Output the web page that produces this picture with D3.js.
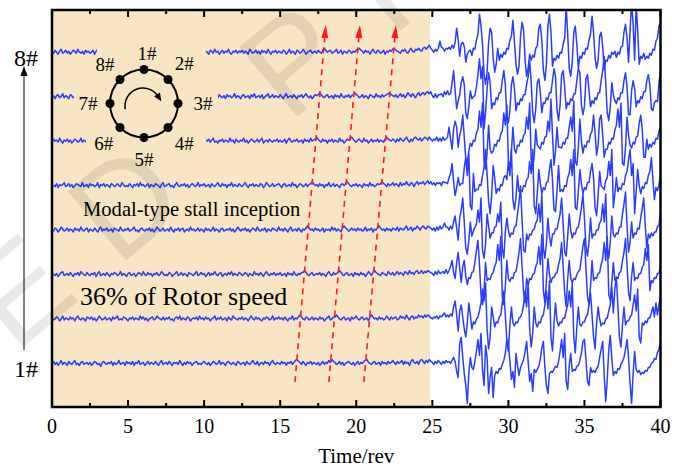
<!DOCTYPE html>
<html><head><meta charset="utf-8">
<script src="https://cdn.jsdelivr.net/npm/d3@7"></script>
<style>body{margin:0;background:#fff}svg{display:block}</style>
</head><body>
<svg id="chart" width="686" height="468"></svg>
<script>
// ---------------- data ----------------
const xMajorTicks = [0, 5, 10, 15, 20, 25, 30, 35, 40];
const xMinorTicks = [2.5, 7.5, 12.5, 17.5, 22.5, 27.5, 32.5, 37.5];
const xLabel = "Time/rev";
const channelEndLabels = ["1#", "8#"];
const ringLabels = ["1#", "2#", "3#", "4#", "5#", "6#", "7#", "8#"];
const noteModal = "Modal-type stall inception";
const noteSpeed = "36% of Rotor speed";
const sampleStep = 0.1;       // rev per sample
const stallStart = 25;        // rev where stall data arrays start
const shadeEnd = 24.85;       // end of shaded (pre-stall) region
const arrowStartT = [15.97, 18.2, 20.5];
const arrowEndT = [18.0, 20.24, 22.61];
const arrowStartCh = 0.58;
const arrowEndCh = 8.61;
const unitsPerChannel = 44.4;

// pre-stall pressure traces (0 - 24.9 rev)
const quiet1 = [0,2,-1,1,-2,0,3,-1,1,0,-2,2,0,-1,1,3,-1,0,-2,1,2,-1,0,1,-1,
1,-2,0,2,1,-1,0,-3,1,2,0,-1,1,0,2,-2,1,-1,0,3,-1,0,1,-2,2,
0,1,-1,2,-2,1,0,3,-1,0,1,-2,0,2,-1,1,0,-1,2,0,-2,1,3,-1,0,
1,-1,2,0,-2,1,0,1,-1,3,0,-2,1,-1,2,0,1,-2,0,1,2,-1,0,-1,1,
2,0,-1,1,-2,0,2,1,-1,0,3,-1,1,0,-2,1,2,0,-1,1,0,-2,2,1,-1,
0,1,-2,2,0,-1,1,3,0,-1,2,-2,0,1,-1,2,0,1,-2,1,3,0,-1,1,0,
-1,2,0,1,-2,1,0,2,-1,1,3,4,2,1,-1,2,0,-2,1,0,2,-1,1,0,-1,
1,-2,0,2,-1,1,0,3,1,4,2,1,-1,0,2,-1,1,-2,0,1,2,0,-1,1,-2,
0,2,-1,1,0,2,3,4,1,0,-1,1,2,-1,0,1,-2,2,0,1,-1,2,0,1,3,
1,-1,2,0,1,3,-1,2,0,1,-2,2,4,1,0,2,-1,3,4,2,0,3,1,4,2];
const quiet2 = [1,-1,0,2,1,-2,0,3,-1,1,0,-1,2,0,1,-2,1,3,0,-1,1,0,-2,2,1,
0,2,-1,1,-2,0,3,1,-1,0,2,-1,0,1,-2,2,0,1,3,-1,0,-1,2,1,0,
-2,1,0,2,-1,1,0,-1,3,0,2,-1,1,-2,0,1,2,-1,0,3,1,0,-1,2,-1,
1,0,2,-1,0,-2,1,2,0,3,-1,1,0,-1,2,1,-2,0,1,0,2,-1,3,0,1,
-1,2,0,1,-2,0,1,3,-1,1,0,2,-1,0,1,-2,2,0,-1,3,1,0,-1,1,0,
2,-1,1,0,-2,1,3,0,-1,2,0,1,-1,-2,1,0,2,1,-1,0,3,-1,1,0,2,
0,1,-1,2,0,-2,1,0,3,-1,1,0,2,4,2,0,-1,2,1,-1,0,2,-1,1,0,
-1,2,0,1,-2,0,1,3,-1,0,2,2,4,2,0,-1,1,2,-1,0,1,-2,2,0,1,
3,0,-1,1,2,-1,0,1,-2,2,4,2,0,1,-1,2,0,1,-1,0,3,1,-1,2,0,
1,2,-1,0,3,1,2,0,4,1,-1,2,3,0,2,1,4,2,3,1,4,2,4,3,1];
const quiet3 = [2,0,-1,1,-2,0,2,3,-1,0,1,-1,2,0,-2,1,0,2,-1,3,1,0,-1,2,0,
-1,1,0,2,-2,1,3,-1,0,1,-1,2,0,-2,1,0,2,1,-1,0,3,-1,1,0,-2,
1,2,-1,0,1,-2,0,2,1,-1,3,0,-1,2,0,1,-2,1,0,2,-1,0,3,1,-1,
0,-1,2,1,-2,0,1,3,-1,0,2,-1,1,0,-2,2,1,0,-1,1,3,-1,0,2,0,
1,-2,0,2,-1,1,0,3,0,-1,1,2,-2,0,1,-1,2,0,3,-1,1,0,-1,2,1,
-1,0,2,1,-2,1,0,-1,3,0,1,-1,2,0,-2,1,3,0,-1,1,0,2,-1,1,0,
2,-1,0,1,-2,2,0,1,-1,3,0,-1,1,0,2,2,4,2,0,-1,1,2,-1,0,1,
0,2,-1,1,0,-2,1,3,0,-1,2,0,1,2,4,2,0,-1,1,2,-1,0,1,-2,2,
0,1,-1,2,0,1,-2,0,3,1,-1,2,4,2,1,0,-1,2,1,0,-1,3,1,0,2,
-1,1,3,0,2,1,-1,3,2,0,4,1,2,0,3,4,1,2,4,1,3,2,4,3,2];
const quiet4 = [0,-1,2,1,-2,0,3,1,-1,0,2,-1,1,0,-2,2,0,1,-1,3,0,-1,1,2,-2,
1,0,-1,2,0,-2,1,3,-1,1,0,2,-1,0,1,-2,2,1,0,-1,3,0,-1,1,0,
2,-1,0,1,3,-1,0,-2,1,2,0,-1,1,0,2,-1,1,-2,0,3,1,-1,0,2,-1,
0,1,-1,3,0,-2,1,0,2,-1,1,2,-2,0,1,-1,3,0,1,-1,0,2,-1,1,0,
-2,2,0,1,-1,0,3,-1,1,0,-2,1,2,-1,0,1,0,2,-1,1,-2,0,3,1,-1,
1,0,2,-1,1,-2,0,2,1,-1,3,0,-1,1,0,2,-2,1,0,-1,2,1,0,-1,3,
0,1,-1,2,0,-2,1,3,-1,0,1,-1,2,0,-2,1,0,2,4,2,0,1,-1,2,0,
1,-1,0,2,-2,1,0,1,-1,3,0,2,-1,1,0,-2,2,4,2,1,-1,0,2,0,1,
-1,2,0,1,-1,0,3,-1,1,0,2,-2,1,0,2,4,2,0,1,-1,2,0,1,-1,2,
1,0,3,-1,2,1,0,2,4,0,1,3,-1,2,1,4,2,0,3,4,2,1,4,3,2];
const quiet5 = [1,0,-1,2,-2,1,0,1,3,-1,0,2,-1,1,-2,0,2,1,0,-1,3,-1,0,1,-2,
2,0,1,-1,0,3,-2,1,0,2,-1,1,0,-2,2,1,-1,0,2,0,-1,3,1,-1,0,
-1,2,0,-2,1,0,2,-1,3,0,1,-1,0,2,-2,1,0,-1,2,1,0,-2,1,3,-1,
0,1,2,-1,0,-2,1,3,0,-1,1,0,2,-1,1,-2,0,2,1,-1,0,3,-1,1,0,
2,-1,0,1,-2,2,0,-1,1,3,0,-1,2,0,1,-2,1,0,3,-1,1,0,-1,2,0,
-1,1,3,0,-2,1,0,2,-1,1,0,-1,2,1,-2,0,3,1,-1,0,2,-1,0,1,2,
0,-2,1,2,-1,0,1,-1,3,0,1,-2,0,2,1,-1,0,2,-1,1,2,4,2,0,1,
-1,2,0,1,-2,1,0,3,-1,0,2,-1,1,0,-2,1,2,0,2,4,2,0,-1,1,0,
2,-1,1,0,-2,2,0,1,-1,3,0,1,-1,0,2,1,2,4,2,1,-1,2,0,1,3,
0,2,1,-1,3,0,2,1,4,1,0,3,2,-1,2,4,1,3,2,4,1,3,5,2,4];
const quiet6 = [-1,2,0,1,-1,3,0,-2,1,0,2,-1,1,-2,0,2,1,-1,0,3,-1,1,0,-2,2,
0,1,-1,2,0,-2,1,3,-1,0,1,-1,2,0,-2,1,0,2,-1,3,0,-1,1,0,-2,
2,-1,1,0,3,-1,0,-2,2,1,-1,0,1,2,-2,0,1,-1,3,0,1,-1,0,2,-1,
1,0,-2,1,2,-1,0,3,-1,1,0,-2,2,1,0,-1,1,2,-2,0,3,1,-1,0,1,
-2,1,0,2,-1,1,3,-1,0,-2,1,0,2,-1,1,0,-1,3,0,1,-2,2,0,-1,1,
0,3,-1,1,-2,0,2,1,-1,0,2,-1,1,3,-2,0,1,-1,2,0,-1,1,0,2,-1,
1,-1,0,2,-2,1,3,0,-1,1,0,2,-1,0,1,-2,2,0,1,-1,3,0,1,2,4,
2,0,-1,2,0,1,-2,1,0,2,-1,1,0,-1,3,0,1,-2,0,2,1,2,4,2,0,
-1,1,2,0,-1,3,0,1,-2,0,2,-1,1,0,2,-1,1,0,-1,2,4,2,1,0,2,
1,-1,2,0,3,1,0,2,4,1,-1,2,0,3,4,2,1,3,0,2,4,3,1,4,2];
const quiet7 = [0,1,-2,1,2,-1,0,3,-1,1,0,-2,2,1,-1,0,2,-1,1,-2,0,3,1,-1,0,
2,-1,0,1,-2,2,0,-1,3,1,-1,0,2,-2,1,0,1,-1,2,0,-2,1,3,-1,0,
1,0,-1,2,-2,0,1,3,-1,0,2,-1,1,0,-2,1,2,-1,0,3,1,-1,0,2,-2,
0,2,1,-1,0,2,-2,1,0,3,-1,1,-1,0,2,1,-2,0,1,2,-1,0,-1,3,1,
-1,0,2,-1,1,-2,0,3,1,-1,2,0,-1,1,-2,2,0,1,-1,0,3,-1,1,0,-2,
1,2,-1,0,1,-2,2,0,3,-1,0,1,-1,2,-2,0,1,3,-1,0,2,-1,1,0,-1,
2,0,-2,1,3,-1,0,1,-1,2,0,-2,1,0,2,-1,1,3,0,-1,1,-2,0,2,1,
2,4,2,0,-1,1,2,-1,0,1,-2,2,0,1,-1,3,0,-1,1,0,2,-1,1,2,4,
2,1,-1,0,2,-1,1,0,-2,2,1,0,-1,3,0,1,-1,2,0,1,2,3,4,2,1,
0,2,-1,1,3,0,2,-1,1,4,2,0,3,1,-1,2,4,1,3,4,2,4,5,3,5];
const quiet8 = [1,-1,2,0,-2,1,3,-1,0,2,-1,1,-2,0,2,1,-1,3,0,-1,1,-2,2,0,1,
-1,0,2,-2,1,3,0,-1,1,-1,2,0,-3,1,2,-1,0,1,-2,2,1,0,-1,3,-1,
0,2,-1,1,0,-2,2,1,-1,0,3,-1,1,-2,0,2,-1,1,0,2,-2,1,-1,0,2,
1,-2,0,3,-1,1,2,-1,0,-2,1,2,0,-1,3,1,-2,0,1,-1,2,0,-1,1,3,
-1,1,0,-2,2,1,-1,3,0,1,-2,0,2,-1,1,0,3,-1,-2,1,0,2,-1,1,0,
2,-1,1,0,-2,3,1,-1,0,2,-1,1,-2,2,0,1,-1,3,0,-2,1,0,2,-1,1,
0,-1,2,1,-2,0,3,-1,1,0,-2,2,1,-1,0,3,1,-2,0,1,2,-1,0,1,-1,
2,0,-1,2,4,2,0,1,2,-1,0,1,3,-1,0,2,-2,1,0,-1,2,1,-1,1,0,
2,3,4,2,1,-1,2,0,1,-2,1,3,0,-1,2,1,-1,0,2,-2,1,0,2,1,3,
4,2,1,0,-1,2,1,3,0,-1,2,4,1,0,3,2,4,2,1,4,5,3,5,7,4];

// rotating-stall pressure traces (25.0 - 40.0 rev)
const stall1 = [1,-1,2,0,3,1,-1,2,0,3, 1,2,0,3,6,2,-8,-14,20,26, 6,-10,-22,-40,-10,6,-4,-6,2,12,
24,8,30,-6,-22,18,6,-30,-14,-4, -34,-12,-8,-10,-5,-6,-1,3,10,24, 20,2,-16,-8,-24,10,-2,-12,-4,0,
4,12,22,2,-18,-10,-28,-6,-9,-6, -3,4,16,22,-4,-22,-30,-10,-8,-9, -6,-3,-4,2,12,24,6,30,-18,-26,
-2,10,-8,-6,-7,-3,-2,3,10,22, 24,4,-18,-22,-4,-9,-7,-9,-5,-3, 6,14,22,-12,-38,-16,14,28,4,-12,
-8,-10,-5,-6,-1,2,6,14,24,6, -20,-40,-10,12,-6,-9,-7,-11,-9,-10, -7,-8,-4,-4,0,1,5,4,11,14, 22];
const stall2 = [0,2,1,3,0,3,2,4,6,2, 4,2,5,3,12,18,4,-12,8,14, 2,-10,-18,-4,16,4,-10,-3,-5,0,
2,8,16,30,18,36,-10,-30,-18,12, 2,-8,-3,-4,2,4,16,28,4,-22, -32,-6,12,-4,-7,-3,-4,1,2,6,
14,28,12,36,-10,-28,-14,12,-4,-8, -3,-4,2,4,14,28,10,38,-18,-32, -4,16,-2,-7,-3,-4,1,1,8,14,
28,12,36,-18,-34,-8,12,-6,-7,-3, -3,2,4,14,26,4,-18,-30,-4,12, 0,-7,-4,-5,0,1,8,14,32,6,
30,42,12,-18,-28,-6,12,-6,-2,-2, 2,4,14,24,8,30,-18,-24,-4,-6, -2,-4,1,1,6,12,2,16,4,14, 22];
const stall3 = [1,-1,3,0,4,1,2,3,1,5, 1,4,8,14,2,-4,12,22,6,-8, 8,14,-2,-10,-3,-4,2,3,12,24,
34,10,-20,-30,-16,12,-6,-4,-5,0, 2,8,12,30,14,38,-22,-30,-12,14, -4,-7,-3,-4,2,3,12,22,36,8,
-18,-28,-4,-10,-4,-5,0,1,8,12, 28,10,40,-16,-28,-6,16,0,-8,-3, -3,1,2,10,16,32,8,-18,-32,-4,
14,-4,-8,-4,-5,0,3,5,16,28, 36,6,-22,-30,-12,14,-6,-3,-4,1, 2,10,16,32,14,38,-20,-26,-8,12,
-6,-3,-4,2,3,14,22,36,10,-18, -26,-2,12,-6,-3,-4,1,1,7,10, 26,14,30,-16,-6,-8,-3,-4,1,1, 9];
const stall4 = [0,2,-1,3,0,4,1,3,7,3, 3,0,4,1,8,14,2,-10,12,20, 32,8,-18,-24,-10,8,-6,-1,3,6,
20,8,32,-20,-28,-14,16,4,-8,-3, -3,3,4,16,8,28,-18,-28,-2,12, 0,-7,-3,-4,3,4,16,28,44,10,
-20,-22,-4,-10,-4,-5,0,1,7,10, 26,8,36,-18,-28,-14,12,-6,-16,-4, -4,1,1,9,16,32,6,-22,-26,-6,
16,0,-8,-3,-4,2,3,12,22,36, 12,-16,-26,-12,12,-8,-4,-5,0,0, 7,10,26,8,36,-18,-28,-12,14,-4,
-7,-3,-4,3,3,16,26,38,4,-22, -12,8,-8,-3,-4,2,1,12,22,32, 4,-18,-4,-8,-3,-6,-2,-2,3,5, 17];
const stall5 = [1,3,0,3,2,3,0,4,3,3, 2,8,12,22,4,-10,-2,8,0,2, 2,18,28,10,32,-20,-24,12,-6,-4,
-4,1,0,10,18,36,12,-16,-28,-10, 20,8,-8,-3,-5,1,0,8,10,6, 24,10,36,-14,-24,-12,10,-6,-4,-6,
0,-1,6,8,24,12,36,-20,-28,-8, 16,2,-8,-2,-4,3,4,16,26,6, -24,-26,-4,20,-6,-4,-6,0,-1,8,
12,26,10,36,-22,-24,-6,16,2,-8, -2,-4,3,3,14,22,8,-22,-30,-10, 14,0,-2,-4,5,8,24,10,36,-22,
-8,8,-6,-2,-4,2,1,10,14,26, 36,10,22,-28,-6,16,0,-8,-1,-3, 3,2,10,14,28,6,-14,-2,-5,1, 10];
const stall6 = [0,2,1,4,0,3,0,4,1,2, 4,14,2,-8,12,20,14,-6,6,12, 26,4,-18,-22,-10,-2,-5,1,0,8,
12,30,14,38,-20,-28,-12,16,-8,-12, -10,-3,-5,1,0,7,10,28,16,36, -20,-26,-10,14,-8,-12,-4,-5,1,-1,
6,8,24,12,38,-18,-28,-14,12,-4, -6,-8,-1,-3,4,5,20,10,42,6, -24,-10,14,-6,-6,-7,-1,-3,3,3,
14,24,10,40,-20,-24,-6,22,0,-12, -4,-6,0,-1,7,10,26,8,-14,-4, 22,26,6,-16,-8,-8,-1,-3,3,2,
11,16,32,14,38,-22,-24,-6,24,6, -4,-7,-1,-3,4,5,18,26,12,-16, -16,2,-8,-3,-6,-1,-3,3,2,10, 14];
const stall7 = [1,-1,3,-1,2,2,3,0,5,2, 6,2,3,14,26,6,-12,-4,2,14, 20,12,-16,-22,-10,6,-2,0,1,10,
22,38,18,30,-32,-16,8,24,14,-12, -6,-8,-1,-3,4,4,16,26,12,-20, -26,-14,12,20,8,-14,-6,-8,-2,-4,
2,2,12,20,36,14,-16,-26,-12,14, 18,4,-16,-6,-7,-1,-3,4,4,16, 28,20,-14,-24,-8,22,26,10,-12,-6,
-8,-2,-4,3,3,16,28,24,-8,-18, -10,18,22,6,-10,-4,-7,-1,-3,4, 4,16,26,40,14,-16,-24,-10,14,2,
-4,-7,-1,-3,4,4,16,24,10,-18, -18,6,16,8,-10,-4,-6,0,-2,5, 5,16,22,12,-12,-14,-6,-4,-5,14, 26];
const stall8 = [2,0,3,1,4,11,5,4,1,4, 3,5,3,7,4,10,24,12,-4,8, 10,6,-10,-2,1,2,-3,4,3,12,
18,38,26,8,-22,-32,-20,10,24,20, -6,-20,-12,4,-8,-2,-5,0,-2,4, 3,12,16,32,10,-12,-22,-14,16,30,
22,-8,-24,-16,-2,-8,-3,-5,4,6, 24,28,12,-18,-28,-12,26,38,20,-14, -6,-8,-3,-6,0,-1,8,14,46,18,
-16,-24,-10,20,26,8,-16,-4,-6,0, -2,4,3,12,18,36,20,-6,-16,-8, 16,20,6,-18,-8,-9,-3,-6,0,-2,
1,-5,0,-2,5,6,20,28,14,-10, 22,50,28,-8,48,22,-12,-4,-6,-1, -7,-4,-6,-1,-3,3,2,11,14,26, 30];

const quietSeries = [quiet1, quiet2, quiet3, quiet4, quiet5, quiet6, quiet7, quiet8];
const stallSeries = [stall1, stall2, stall3, stall4, stall5, stall6, stall7, stall8];

// ---------------- layout ----------------
const W = 686, H = 468;
const plot = {left: 52, right: 660.5, top: 10, bottom: 407};
const svg = d3.select("#chart");
const serif = "'Liberation Serif','Times New Roman',serif";
const beige = "#F8E5C3";
const blue = "#2a3cff";

const x = d3.scaleLinear().domain([0, 40]).range([plot.left, plot.right]);
const y = d3.scaleLinear().domain([0.02, 8.95]).range([plot.bottom, plot.top]);

svg.append("rect").attr("width", W).attr("height", H).attr("fill", "#fff");
svg.append("rect")
  .attr("x", x(0)).attr("y", plot.top)
  .attr("width", x(shadeEnd) - x(0)).attr("height", plot.bottom - plot.top)
  .attr("fill", beige);

svg.append("clipPath").attr("id", "clip").append("rect")
  .attr("x", plot.left).attr("y", plot.top)
  .attr("width", plot.right - plot.left).attr("height", plot.bottom - plot.top);

const line = d3.line().x(d => x(d.t)).y(d => y(d.ch + d.v / unitsPerChannel));
const traces = quietSeries.map((q, k) => {
  const pts = q.map((v, i) => ({t: i * sampleStep, v, ch: k + 1}));
  stallSeries[k].forEach((v, i) => pts.push({t: stallStart + i * sampleStep, v, ch: k + 1}));
  return pts;
});
svg.append("g").attr("clip-path", "url(#clip)")
  .selectAll("path").data(traces).join("path")
  .attr("d", line).attr("fill", "none")
  .attr("stroke", blue).attr("stroke-width", 1.5).attr("stroke-linejoin", "round");

// masks behind the ring diagram and its labels
const masks = [[97, 40, 93, 128], [74, 88, 26, 24], [190, 88, 28, 24], [86, 130, 14, 25], [190, 130, 16, 25], [190, 45, 16, 34]];
svg.append("g").selectAll("rect").data(masks).join("rect")
  .attr("x", d => d[0]).attr("y", d => d[1]).attr("width", d => d[2]).attr("height", d => d[3])
  .attr("fill", beige);

// red dashed arrows
const ag = svg.append("g");
arrowStartT.forEach((t0, i) => {
  const x0 = x(t0), y0 = y(arrowStartCh), x1 = x(arrowEndT[i]), y1 = y(arrowEndCh);
  const ang = Math.atan2(y1 - y0, x1 - x0);
  const headLen = 13, headW = 3.5;
  const bx = x1 - headLen * Math.cos(ang), by = y1 - headLen * Math.sin(ang);
  ag.append("line").attr("x1", x0).attr("y1", y0).attr("x2", bx).attr("y2", by)
    .attr("stroke", "#ff1a1a").attr("stroke-width", 1.6).attr("stroke-dasharray", "6,5");
  const nx = -Math.sin(ang), ny = Math.cos(ang);
  ag.append("path")
    .attr("d", `M${x1},${y1}L${bx + nx * headW},${by + ny * headW}L${bx - nx * headW},${by - ny * headW}Z`)
    .attr("fill", "#ff1a1a");
});

// ring diagram
const cx = 144, cy = 103.5, R = 34;
const ring = svg.append("g");
ring.append("circle").attr("cx", cx).attr("cy", cy).attr("r", R)
  .attr("fill", "none").attr("stroke", "#000").attr("stroke-width", 2);
ring.selectAll("circle.dot").data(ringLabels).join("circle").attr("class", "dot")
  .attr("cx", (d, i) => cx + R * Math.sin(i * Math.PI / 4))
  .attr("cy", (d, i) => cy - R * Math.cos(i * Math.PI / 4))
  .attr("r", 4.5).attr("fill", "#000");
const labR = [50, 57, 59, 57, 56, 57, 56, 55];
ring.selectAll("text").data(ringLabels).join("text")
  .attr("x", (d, i) => cx + labR[i] * Math.sin(i * Math.PI / 4) + (i === 0 ? 3 : 0))
  .attr("y", (d, i) => cy - labR[i] * Math.cos(i * Math.PI / 4))
  .attr("dy", "0.35em").attr("text-anchor", "middle")
  .attr("font-family", serif).attr("font-size", 19).text(d => d);
// rotation arrow
const acx = 143, acy = 106, ar = 18;
const a0 = 170 * Math.PI / 180, a1 = 327 * Math.PI / 180;
const p = d3.path(); p.arc(acx, acy, ar, a0, a1, false);
ring.append("path").attr("d", p.toString()).attr("fill", "none").attr("stroke", "#000").attr("stroke-width", 1.5);
{
  const ex = acx + ar * Math.cos(a1), ey = acy + ar * Math.sin(a1);
  const tx = -Math.sin(a1), ty = Math.cos(a1);
  const nx = -ty, ny = tx;
  ring.append("path")
    .attr("d", `M${ex + tx * 6},${ey + ty * 6}L${ex - tx * 2 + nx * 3.5},${ey - ty * 2 + ny * 3.5}L${ex - tx * 2 - nx * 3.5},${ey - ty * 2 - ny * 3.5}Z`)
    .attr("fill", "#000");
}

// annotations
svg.append("text").attr("x", 83).attr("y", 216).attr("font-family", serif).attr("font-size", 20.6).text(noteModal);
svg.append("text").attr("x", 80).attr("y", 305).attr("font-family", serif).attr("font-size", 26).text(noteSpeed);

// watermark (faint, partly outside the picture like the reference)
svg.append("text").attr("transform", "translate(15,354) rotate(-40)")
  .attr("font-family", "'Liberation Sans',Arial,sans-serif").attr("font-size", 132)
  .attr("letter-spacing", 46)
  .attr("fill", "#000").attr("fill-opacity", 0.085).text("ED PROOF");

// frame and ticks
const axG = svg.append("g");
axG.selectAll("line.maj").data(xMajorTicks.flatMap(t => [[t, plot.bottom, -7], [t, plot.top, 7]])).join("line")
  .attr("x1", d => x(d[0])).attr("x2", d => x(d[0])).attr("y1", d => d[1]).attr("y2", d => d[1] + d[2])
  .attr("stroke", "#000").attr("stroke-width", 2);
axG.selectAll("line.min").data(xMinorTicks.flatMap(t => [[t, plot.bottom, -4], [t, plot.top, 4]])).join("line")
  .attr("x1", d => x(d[0])).attr("x2", d => x(d[0])).attr("y1", d => d[1]).attr("y2", d => d[1] + d[2])
  .attr("stroke", "#000").attr("stroke-width", 2);
svg.append("rect").attr("x", plot.left).attr("y", plot.top)
  .attr("width", plot.right - plot.left).attr("height", plot.bottom - plot.top)
  .attr("fill", "none").attr("stroke", "#000").attr("stroke-width", 2.5);
svg.append("g").selectAll("text").data(xMajorTicks).join("text")
  .attr("x", d => x(d)).attr("y", 433).attr("text-anchor", "middle")
  .attr("font-family", serif).attr("font-size", 20).text(d => d);
svg.append("text").attr("x", (plot.left + plot.right) / 2).attr("y", 463).attr("text-anchor", "middle")
  .attr("font-family", serif).attr("font-size", 21).text(xLabel);

// channel axis arrow on the left
svg.append("line").attr("x1", 24).attr("x2", 24).attr("y1", 350).attr("y2", 74)
  .attr("stroke", "#000").attr("stroke-width", 1);
svg.append("path").attr("d", "M24,66L20.5,76L27.5,76Z").attr("fill", "#000");
svg.append("text").attr("x", 14).attr("y", 66).attr("font-family", serif).attr("font-size", 24).text(channelEndLabels[1]);
svg.append("text").attr("x", 14).attr("y", 377).attr("font-family", serif).attr("font-size", 24).text(channelEndLabels[0]);
</script>
</body></html>
